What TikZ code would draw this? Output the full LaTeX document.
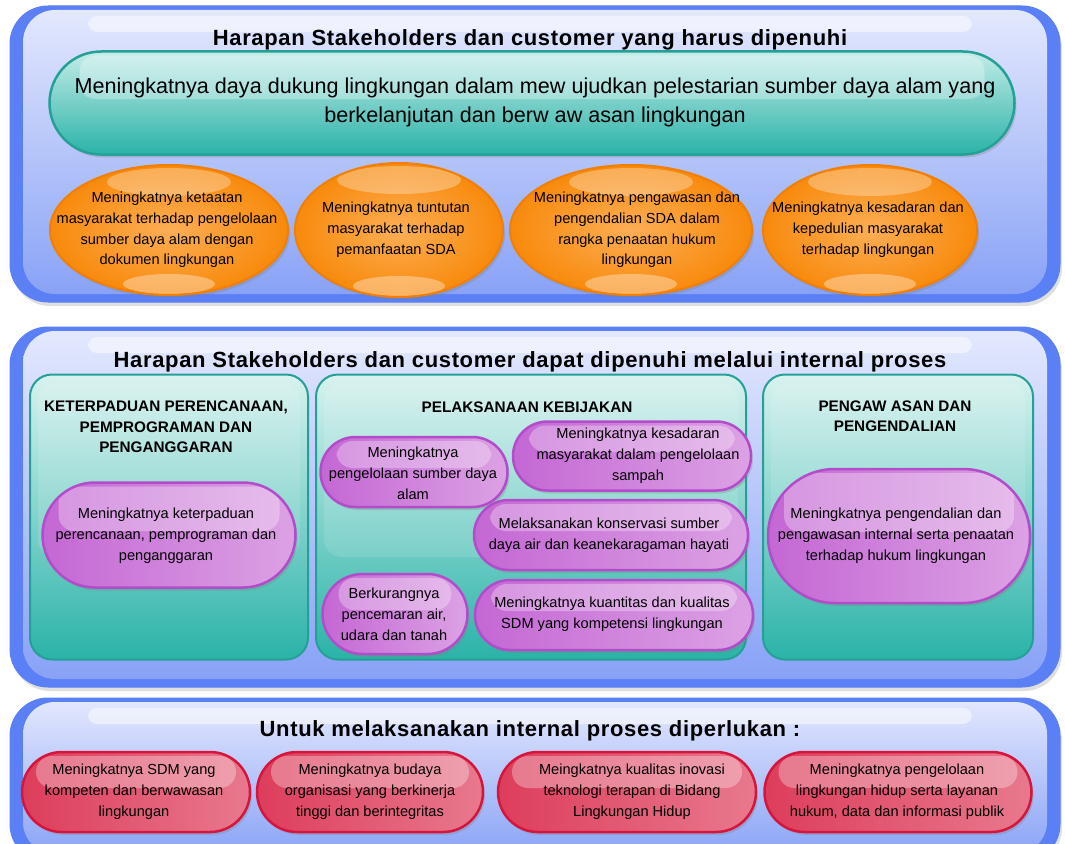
\documentclass[tikz,border=0pt]{standalone}
\usepackage{fontspec}
\setmainfont{Liberation Sans}
\usetikzlibrary{shapes.geometric,shapes.misc,shadows}

\definecolor{panelblue}{HTML}{5B80F6}
\definecolor{panelhi}{HTML}{E4E9FD}
\definecolor{panelmid}{HTML}{B9C7FA}
\definecolor{panello}{HTML}{86A0F6}
\definecolor{tealedge}{HTML}{25A096}
\definecolor{tealtop}{HTML}{C4ECE8}
\definecolor{tealmid}{HTML}{5CC8BE}
\definecolor{tealbot}{HTML}{2AB3A8}
\definecolor{boxtop}{HTML}{D8F2EF}
\definecolor{boxmid}{HTML}{8AD8D0}
\definecolor{orangeedge}{HTML}{F37F00}
\definecolor{orangein}{HTML}{FCAE55}
\definecolor{orangeout}{HTML}{F88A0C}
\definecolor{lilacedge}{HTML}{B34CCB}
\definecolor{lilacleft}{HTML}{C467D4}
\definecolor{lilacright}{HTML}{DCA2E4}
\definecolor{rededge}{HTML}{D6143C}
\definecolor{redleft}{HTML}{DD3D5B}
\definecolor{redright}{HTML}{E8798E}

\tikzset{
  panel/.style={rectangle, draw=panelblue, fill=panelblue, line width=1pt, rounded corners=38pt,
    inner sep=0pt, drop shadow={opacity=.25, shadow xshift=2pt, shadow yshift=-4pt},
    path picture={
      \shade[top color=panelhi, middle color=panelmid, bottom color=panello, rounded corners=32pt]
        ([xshift=13pt,yshift=-4pt]path picture bounding box.north west) rectangle
        ([xshift=-13pt,yshift=8pt]path picture bounding box.south east);
      \fill[white, opacity=.5, rounded corners=9pt]
        ([xshift=78pt,yshift=-10pt]path picture bounding box.north west) rectangle
        ([xshift=-88pt,yshift=-26pt]path picture bounding box.north east);}},
  bandtitle/.style={font=\fontsize{22}{26}\selectfont\bfseries\addfontfeatures{LetterSpace=3}, inner sep=0pt},
  body/.style={font=\fontsize{14.6}{20.8}\selectfont, align=center, inner sep=0pt},
  boxhead/.style={font=\fontsize{15.3}{20.3}\selectfont\bfseries, align=center, inner sep=0pt},
  gloss/.style={path picture={\fill[white, opacity=.3, rounded corners=16pt]
      ([xshift=#1, yshift=-4pt]path picture bounding box.north west) rectangle
      ([xshift=-#1, yshift=4pt]path picture bounding box.east);}},
  capsule/.style={rounded rectangle, inner sep=0pt, line width=2.5pt,
    drop shadow={opacity=.3, shadow xshift=2pt, shadow yshift=-3pt}},
  vision/.style={capsule, draw=tealedge, top color=tealtop, middle color=tealmid,
    bottom color=tealbot, gloss=30pt},
  oval/.style={ellipse, inner sep=0pt, draw=orangeedge, line width=2pt,
    inner color=orangein, outer color=orangeout,
    drop shadow={opacity=.3, shadow xshift=2pt, shadow yshift=-3pt},
    path picture={
      \fill[white, opacity=.3] ([yshift=-17pt]path picture bounding box.north)
        ellipse [x radius=62pt, y radius=14pt];
      \fill[white, opacity=.35] ([yshift=11pt]path picture bounding box.south)
        ellipse [x radius=46pt, y radius=10pt];}},
  lilac/.style={capsule, draw=lilacedge, left color=lilacleft, right color=lilacright, gloss=16pt},
  redpill/.style={capsule, draw=rededge, left color=redleft, right color=redright, gloss=14pt},
  subbox/.style={rectangle, rounded corners=22pt, draw=tealedge, line width=2pt,
    top color=boxtop, middle color=boxmid, bottom color=tealbot, inner sep=0pt,
    path picture={\fill[white, opacity=.12, rounded corners=18pt]
      ([xshift=8pt,yshift=-8pt]path picture bounding box.north west) rectangle
      ([xshift=-8pt,yshift=-40pt]path picture bounding box.east);}}
}

\begin{document}
\begin{tikzpicture}[x=1pt, y=-1pt]
\path[use as bounding box, fill=white] (0,0) rectangle (1065,843);

% the three bands
\node[panel, minimum width=1050pt, minimum height=296pt] (goal) at (535,154) {};
\node[panel, minimum width=1050pt, minimum height=360pt] (proc) at (535,507) {};
\node[panel, minimum width=1050pt, minimum height=164pt] (need) at (535,780) {};

\node[bandtitle] (goal-t) at (530,40) {Harapan Stakeholders dan customer yang harus dipenuhi};
\node[bandtitle] (proc-t) at (530,362) {Harapan Stakeholders dan customer dapat dipenuhi melalui internal proses};
\node[bandtitle] (need-t) at (530,731) {Untuk melaksanakan internal proses diperlukan :};

% stakeholder goals
\node[vision, minimum width=965pt, minimum height=103pt] (vis) at (532,103) {};
\node[body, font=\fontsize{21.6}{29}\selectfont] (vis-t) at (535,102) {Meningkatnya daya dukung lingkungan dalam mew ujudkan pelestarian sumber daya alam yang\\berkelanjutan dan berw aw asan lingkungan};

\foreach \n/\cx/\tx/\w/\h/\t in {
  A/169/167/238/130/{Meningkatnya ketaatan\\masyarakat terhadap pengelolaan\\sumber daya alam dengan\\dokumen lingkungan},
  B/399/396/208/134/{Meningkatnya tuntutan\\masyarakat terhadap\\pemanfaatan SDA},
  C/631/637/242/130/{Meningkatnya pengawasan dan\\pengendalian SDA dalam\\rangka penaatan hukum\\lingkungan},
  D/870/868/214/130/{Meningkatnya kesadaran dan\\kepedulian masyarakat\\terhadap lingkungan}}
{
  \node[oval, minimum width=\w pt, minimum height=\h pt] (sas\n) at (\cx,230) {};
  \node[body] (sas\n-t) at (\tx,230) {\t};
}

% internal process
\node[subbox, minimum width=278pt, minimum height=285pt] (plan) at (169,517) {};
\node[subbox, minimum width=430pt, minimum height=285pt] (exec) at (531,517) {};
\node[subbox, minimum width=270pt, minimum height=285pt] (ctrl) at (898,517) {};

\node[boxhead] (plan-h) at (166,427) {KETERPADUAN PERENCANAAN,\\PEMPROGRAMAN DAN\\PENGANGGARAN};
\node[boxhead] (exec-h) at (527,407) {PELAKSANAAN KEBIJAKAN};
\node[boxhead] (ctrl-h) at (895,416) {PENGAW ASAN DAN\\PENGENDALIAN};

\node[lilac, minimum width=253pt, minimum height=105pt] (planA) at (169,535) {};
\node[body] (planA-t) at (166,536) {Meningkatnya keterpaduan\\perencanaan, pemprograman dan\\penganggaran};

\foreach \n/\cx/\cy/\tx/\ty/\w/\h/\t in {
  A/414/472/413/473/187/70/{Meningkatnya\\pengelolaan sumber daya\\alam},
  B/632/456/638/456/238/69/{Meningkatnya kesadaran\\masyarakat dalam pengelolaan\\sampah},
  C/611/535/609/535/274/70/{Melaksanakan konservasi sumber\\daya air dan keanekaragaman hayati},
  D/395/614/394/614/145/80/{Berkurangnya\\pencemaran air,\\udara dan tanah},
  E/614/615/612/614/278/70/{Meningkatnya kuantitas dan kualitas\\SDM yang kompetensi lingkungan}}
{
  \node[lilac, minimum width=\w pt, minimum height=\h pt] (exec\n) at (\cx,\cy) {};
  \node[body] (exec\n-t) at (\tx,\ty) {\t};
}

\node[lilac, minimum width=262pt, minimum height=134pt] (ctrlA) at (899,536) {};
\node[body] (ctrlA-t) at (896,536) {Meningkatnya pengendalian dan\\pengawasan internal serta penaatan\\terhadap hukum lingkungan};

% needed resources
\foreach \n/\cx/\tx/\w/\t in {
  A/136/134/228/{Meningkatnya SDM yang\\kompeten dan berwawasan\\lingkungan},
  B/370/370/226/{Meningkatnya budaya\\organisasi yang berkinerja\\tinggi dan berintegritas},
  C/627/632/258/{Meingkatnya kualitas inovasi\\teknologi terapan di Bidang\\Lingkungan Hidup},
  D/898/897/267/{Meningkatnya pengelolaan\\lingkungan hidup serta layanan\\hukum, data dan informasi publik}}
{
  \node[redpill, minimum width=\w pt, minimum height=80pt] (res\n) at (\cx,792) {};
  \node[body] (res\n-t) at (\tx,792) {\t};
}
\end{tikzpicture}
\end{document}
